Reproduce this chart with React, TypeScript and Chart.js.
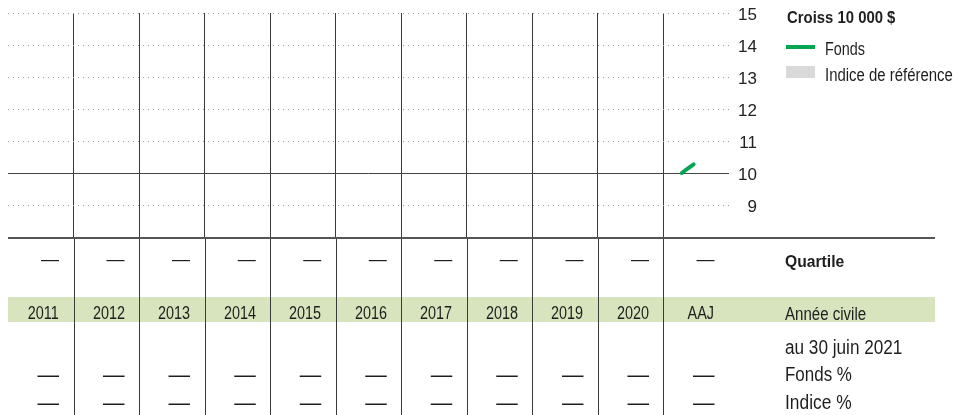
import React, { useEffect, useRef } from "react";
import { Chart, registerables } from "chart.js";

Chart.register(...registerables);

// ---------- data ----------
const columns: string[] = ["2011", "2012", "2013", "2014", "2015", "2016", "2017", "2018", "2019", "2020", "AAJ"];
// fund growth of 10 000 $ (thousands), x = years since start of 2011
const fondsX: number[] = [10.28, 10.37, 10.46];
const fondsY: number[] = [10.0, 10.14, 10.27];
const indiceX: number[] = [];
const indiceY: number[] = [];
const yTicks: number[] = [9, 10, 11, 12, 13, 14, 15];
const quartile: string[] = ["—", "—", "—", "—", "—", "—", "—", "—", "—", "—", "—"];
const fondsPct: (number | null)[] = [null, null, null, null, null, null, null, null, null, null, null];
const indicePct: (number | null)[] = [null, null, null, null, null, null, null, null, null, null, null];

const FONT = '"Liberation Sans", Arial, "DejaVu Sans", sans-serif';
const DASHFONT = '"Liberation Sans", Arial, sans-serif';

const LEFT = 8;
const RIGHT = 729;
const TOP = 13;
const BOTTOM = 237;
const W = 968;
const H = 415;
const COLW = (RIGHT - LEFT) / columns.length;

const tablePlugin = {
  id: "tableDecor",
  beforeDraw(chart: any) {
    const ctx = chart.ctx;
    ctx.save();
    ctx.fillStyle = "#d7e4bd";
    ctx.fillRect(8, 297, 927, 25);
    ctx.restore();
  },
  afterDraw(chart: any) {
    const ctx = chart.ctx;
    const xs = chart.scales.x;
    const area = chart.chartArea;
    ctx.save();
    ctx.strokeStyle = "#3a3a3a";
    ctx.lineWidth = 1;
    for (let i = 1; i < columns.length; i++) {
      const px = Math.round(xs.getPixelForValue(i)) + 0.5;
      ctx.beginPath();
      ctx.moveTo(px, area.bottom);
      ctx.lineTo(px, H);
      ctx.stroke();
    }
    ctx.strokeStyle = "#555";
    ctx.lineWidth = 2;
    ctx.beginPath();
    ctx.moveTo(8, area.bottom + 1);
    ctx.lineTo(935, area.bottom + 1);
    ctx.stroke();
    ctx.restore();
  },
};

function ChartCanvas() {
  const ref = useRef<HTMLCanvasElement | null>(null);
  useEffect(() => {
    if (!ref.current) return;
    const chart = new Chart(ref.current, {
      type: "line",
      data: {
        datasets: [
          {
            label: "Fonds",
            data: fondsX.map((x, i) => ({ x, y: fondsY[i] })),
            borderColor: "#00a651",
            backgroundColor: "#00a651",
            borderWidth: 4,
            borderCapStyle: "round",
            pointRadius: 0,
            tension: 0,
          },
          {
            label: "Indice de référence",
            data: indiceX.map((x, i) => ({ x, y: indiceY[i] })),
            borderColor: "#d9d9d9",
            backgroundColor: "#d9d9d9",
            borderWidth: 4,
            pointRadius: 0,
          },
        ],
      },
      options: {
        responsive: false,
        animation: false,
        devicePixelRatio: 1,
        layout: { padding: { left: LEFT, top: TOP, right: W - RIGHT - 28, bottom: H - BOTTOM } },
        plugins: { legend: { display: false }, tooltip: { enabled: false } },
        scales: {
          x: {
            type: "linear",
            min: 0,
            max: columns.length,
            ticks: { display: false, stepSize: 1 },
            grid: {
              drawTicks: false,
              color: (c: any) => (c.tick && (c.tick.value === 0 || c.tick.value === columns.length) ? "rgba(0,0,0,0)" : "#3a3a3a"),
              lineWidth: 1,
            },
            border: { display: false },
            afterFit: (s: any) => {
              s.height = 0;
            },
          },
          y: {
            position: "right",
            min: 8,
            max: 15,
            afterBuildTicks: (s: any) => {
              s.ticks = [8, ...yTicks].map((v) => ({ value: v }));
            },
            ticks: {
              callback: (v: any) => (v === 8 ? "" : String(v)),
              color: "#222",
              font: { family: FONT, size: 17 },
              crossAlign: "far",
              padding: 0,
              labelOffset: 2,
            },
            grid: {
              drawTicks: false,
              color: (c: any) => {
                const v = c.tick ? c.tick.value : 0;
                if (v === 8) return "rgba(0,0,0,0)";
                if (v === 10) return "#444";
                return "#999";
              },
              lineWidth: 1,
            },
            border: {
              display: false,
              dash: (c: any) => (c.tick && c.tick.value === 10 ? [] : [1, 4]),
            },
            afterFit: (s: any) => {
              s.width = 28;
            },
          },
        },
      },
      plugins: [tablePlugin],
    } as any);
    return () => chart.destroy();
  }, []);
  return <canvas ref={ref} width={W} height={H} style={{ position: "absolute", left: 0, top: 0, width: W, height: H }} />;
}

function T(props: { x: number; cy: number; size: number; sx: number; bold?: boolean; children: React.ReactNode }) {
  return (
    <div
      style={{
        position: "absolute",
        left: props.x,
        top: props.cy - 10,
        lineHeight: "20px",
        fontSize: props.size,
        fontWeight: props.bold ? 700 : 400,
        fontFamily: FONT,
        color: "#1e1e1e",
        whiteSpace: "nowrap",
      }}
    >
      <span style={{ display: "inline-block", transform: `scaleX(${props.sx})`, transformOrigin: "left center" }}>
        {props.children}
      </span>
    </div>
  );
}

function Cell(props: { i: number; cy: number; size: number; sx?: number; dash?: boolean; children: React.ReactNode }) {
  const lh = 20;
  const top = props.dash ? props.cy - lh / 2 - 0.07 * props.size : props.cy - lh / 2;
  return (
    <div
      style={{
        position: "absolute",
        left: LEFT + props.i * COLW,
        width: COLW,
        boxSizing: "border-box",
        paddingRight: 14.5,
        textAlign: "right",
        top,
        lineHeight: lh + "px",
        fontSize: props.size,
        fontFamily: props.dash ? DASHFONT : FONT,
        color: "#1e1e1e",
        whiteSpace: "nowrap",
      }}
    >
      <span style={{ display: "inline-block", transform: `scaleX(${props.sx ?? 1})`, transformOrigin: "right center" }}>
        {props.children}
      </span>
    </div>
  );
}

export default function App() {
  return (
    <div style={{ position: "absolute", left: 0, top: 0, width: W, height: H, background: "#fff", overflow: "hidden" }}>
      <ChartCanvas />
      {/* legend */}
      <T x={786.5} cy={18} size={16} sx={0.93} bold>
        Croiss 10 000 $
      </T>
      <div style={{ position: "absolute", left: 786, top: 45, width: 29, height: 4, background: "#00a651" }} />
      <T x={825} cy={49} size={18} sx={0.8}>
        Fonds
      </T>
      <div style={{ position: "absolute", left: 786, top: 66, width: 29, height: 12, background: "#d9d9d9" }} />
      <T x={825} cy={75} size={18} sx={0.83}>
        Indice de référence
      </T>
      {/* table */}
      {quartile.map((q, i) => (
        <Cell key={"q" + i} i={i} cy={260} size={18} dash>
          {q}
        </Cell>
      ))}
      <T x={785} cy={261} size={16.5} sx={0.95} bold>
        Quartile
      </T>
      {columns.map((c, i) => (
        <Cell key={"c" + i} i={i} cy={312.5} size={18} sx={0.8}>
          {c}
        </Cell>
      ))}
      <T x={785} cy={313.5} size={17.5} sx={0.86}>
        Année civile
      </T>
      <T x={785} cy={347} size={19.5} sx={0.88}>
        au 30 juin 2021
      </T>
      {fondsPct.map((v, i) => (
        <Cell key={"f" + i} i={i} cy={376.7} size={21.5} dash>
          {v === null ? "—" : v.toFixed(2)}
        </Cell>
      ))}
      <T x={785} cy={374} size={19.5} sx={0.87}>
        Fonds %
      </T>
      {indicePct.map((v, i) => (
        <Cell key={"n" + i} i={i} cy={405} size={21.5} dash>
          {v === null ? "—" : v.toFixed(2)}
        </Cell>
      ))}
      <T x={785} cy={402} size={19.5} sx={0.89}>
        Indice %
      </T>
    </div>
  );
}
